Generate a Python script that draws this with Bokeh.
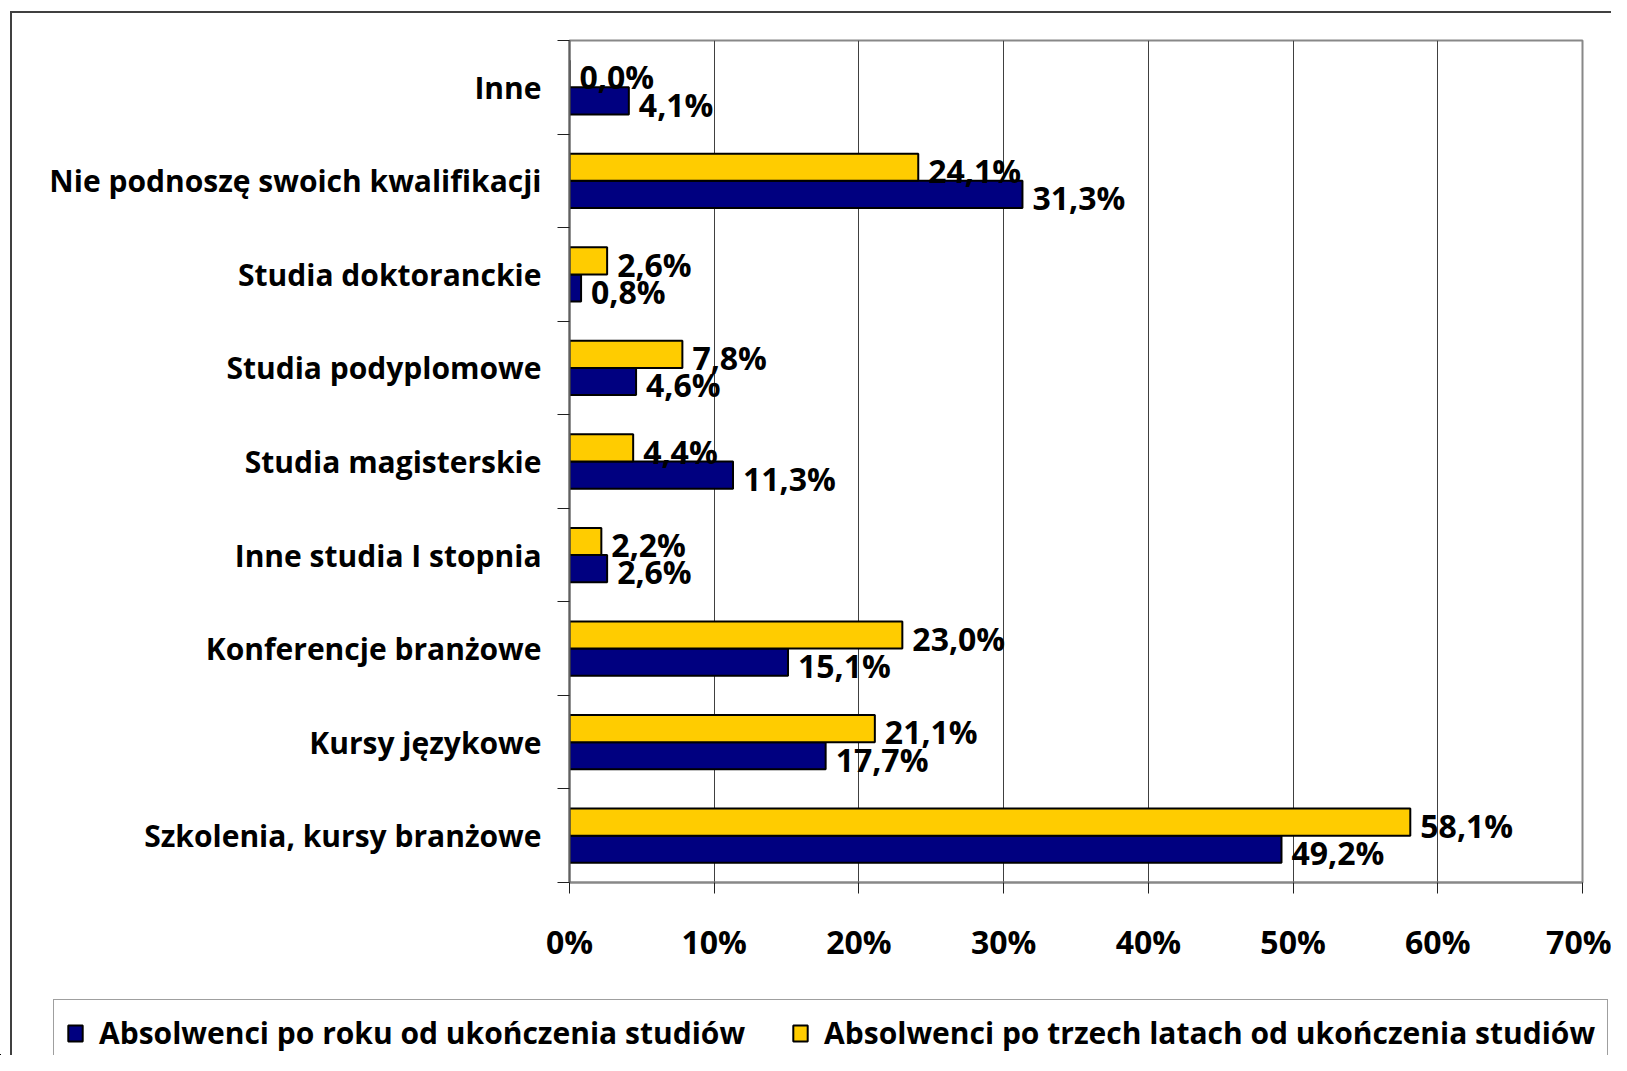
from bokeh.plotting import figure
from bokeh.models import (ColumnDataSource, Range1d, FixedTicker, Legend, LegendItem)
from bokeh.layouts import column
from bokeh.embed import file_html
from bokeh.resources import INLINE
from bokeh.core.properties import value

# ---- data (bottom to top) ----
categories = [
    "Szkolenia, kursy branżowe",
    "Kursy językowe",
    "Konferencje branżowe",
    "Inne studia I stopnia",
    "Studia magisterskie",
    "Studia podyplomowe",
    "Studia doktoranckie",
    "Nie podnoszę swoich kwalifikacji",
    "Inne",
]
after_1_year = [49.2, 17.7, 15.1, 2.6, 11.3, 4.6, 0.8, 31.3, 4.1]
after_3_years = [58.1, 21.1, 23.0, 2.2, 4.4, 7.8, 2.6, 24.1, 0.0]
series_names = ["Absolwenci po roku od ukończenia studiów",
                "Absolwenci po trzech latach od ukończenia studiów"]
x_ticks = [0, 10, 20, 30, 40, 50, 60, 70]
x_tick_labels = ["0%", "10%", "20%", "30%", "40%", "50%", "60%", "70%"]

BLUE = "#000080"
YELLOW = "#FFCC00"
FONT = "Open Sans"

n = len(categories)
centers = [i + 0.5 for i in range(n)]
off = 0.145
bar_h = 0.29

def fmt(v):
    return f"{v:.1f}".replace(".", ",") + "%"

src1 = ColumnDataSource(dict(y=[c - off for c in centers], x=after_1_year,
                             ly=[c - off - 0.035 for c in centers],
                             lab=[fmt(v) for v in after_1_year]))
src3 = ColumnDataSource(dict(y=[c + off for c in centers], x=after_3_years,
                             ly=[c + off - 0.035 for c in centers],
                             lab=[fmt(v) for v in after_3_years]))

W = 1611
HA = 995
HB = 60

# ---------------- main chart ----------------
p = figure(width=W, height=HA, output_backend="svg", toolbar_location=None,
           x_range=Range1d(0, 70), y_range=Range1d(0, n),
           min_border_left=569, min_border_right=29, min_border_top=40,
           min_border_bottom=113)
p.frame_align = False
p.background_fill_color = "white"
p.border_fill_color = None
p.styles = {"background-color": "white",
            "box-shadow": "inset 10px 11px 0 0 white, inset 12px 13px 0 0 #404040"}
p.outline_line_color = "#888888"
p.outline_line_width = 2

r1 = p.hbar(y="y", right="x", left=0, height=bar_h, source=src1,
            fill_color=BLUE, line_color="black", line_width=2)
r3 = p.hbar(y="y", right="x", left=0, height=bar_h, source=src3,
            fill_color=YELLOW, line_color="black", line_width=2)

for s in (src3, src1):
    p.text(x="x", y="ly", text="lab", source=s, x_offset=10,
           text_font=value(FONT), text_font_style="bold", text_font_size="32px",
           text_baseline="middle", text_align="left", text_color="black")

xa = p.xaxis[0]
xa.ticker = FixedTicker(ticks=x_ticks)
xa.major_label_overrides = {t: l for t, l in zip(x_ticks, x_tick_labels)}
xa.major_label_text_font = FONT
xa.major_label_text_font_style = "bold"
xa.major_label_text_font_size = "32px"
xa.major_label_text_color = "black"
xa.major_label_standoff = 26
xa.major_tick_in = 0
xa.major_tick_out = 11
xa.major_tick_line_color = "#202020"
xa.minor_tick_line_color = None
xa.axis_line_color = "#888888"
xa.axis_line_width = 2

ya = p.yaxis[0]
ya.ticker = FixedTicker(ticks=centers, minor_ticks=list(range(n + 1)))
ya.major_label_overrides = {c: l for c, l in zip(centers, categories)}
ya.major_label_text_font = FONT
ya.major_label_text_font_style = "bold"
ya.major_label_text_font_size = "30px"
ya.major_label_text_color = "black"
ya.major_label_standoff = 16
ya.major_tick_in = 0
ya.major_tick_out = 0
ya.minor_tick_in = 0
ya.minor_tick_out = 12
ya.minor_tick_line_color = "#202020"
ya.axis_line_color = "#606060"
ya.axis_line_width = 2

p.ygrid.grid_line_color = None
p.xgrid.ticker = FixedTicker(ticks=x_ticks)
p.xgrid.grid_line_color = "#404040"
p.xgrid.grid_line_width = 1

# ---------------- legend strip ----------------
# the strip's view range lies far from the data, so its bars are not in view;
# they serve only as the legend's renderers
q = figure(width=W, height=HB, output_backend="svg", toolbar_location=None,
           x_range=Range1d(1000, 1001), y_range=Range1d(1000, 1001),
           x_axis_location=None, y_axis_location=None,
           min_border_left=0, min_border_right=0, min_border_top=0,
           min_border_bottom=0)
q.frame_align = False
q.grid.grid_line_color = None
q.outline_line_color = None
q.background_fill_color = None
q.border_fill_color = None
q.styles = {"background-color": "white",
            "box-shadow": "inset 10px 0 0 0 white, inset 12px 0 0 0 #404040"}

l1 = q.hbar(y="y", right="x", left=0, height=bar_h, source=src1,
            fill_color=BLUE, line_color="black", line_width=2)
l3 = q.hbar(y="y", right="x", left=0, height=bar_h, source=src3,
            fill_color=YELLOW, line_color="black", line_width=2)

legend = Legend(items=[LegendItem(label=series_names[0], renderers=[l1]),
                       LegendItem(label=series_names[1], renderers=[l3])],
                orientation="horizontal", location=(53, -11))
legend.label_text_font = FONT
legend.label_text_font_style = "bold"
legend.label_text_font_size = "30px"
legend.label_text_color = "black"
legend.glyph_width = 18
legend.glyph_height = 20
legend.label_standoff = 15
legend.spacing = 46
legend.padding = 12
legend.margin = 0
legend.border_line_color = "#404040"
legend.border_line_width = 1.5
legend.background_fill_color = "white"
legend.background_fill_alpha = 1
q.add_layout(legend)

layout = column(p, q, spacing=0)
open("out.html", "w").write(file_html(layout, INLINE))
